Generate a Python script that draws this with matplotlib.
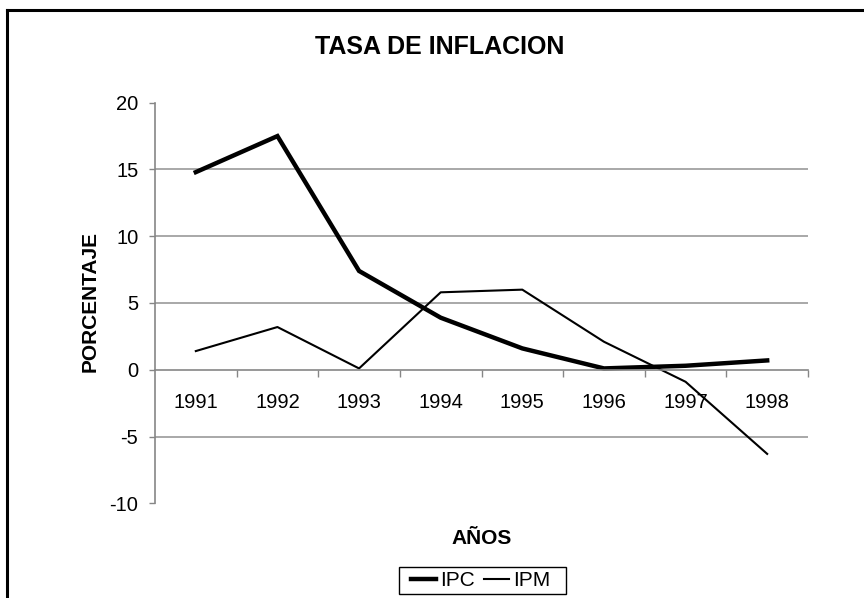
import matplotlib
matplotlib.use("Agg")
import matplotlib.pyplot as plt
from matplotlib.lines import Line2D
from matplotlib.patches import Rectangle
import numpy as np

plt.rcParams['font.family'] = ['Liberation Sans', 'DejaVu Sans']

years = ["1991", "1992", "1993", "1994", "1995", "1996", "1997", "1998"]
ipc = [14.8, 17.5, 7.4, 3.9, 1.6, 0.1, 0.3, 0.7]
ipm = [1.4, 3.2, 0.1, 5.8, 6.0, 2.1, -0.9, -6.3]
yticks = [-10, -5, 0, 5, 10, 15, 20]

W, H = 864, 598
fig = plt.figure(figsize=(W / 100, H / 100), dpi=100)
ax = fig.add_axes([155 / W, 1 - 503.3 / H, (808 - 155) / W, (503.3 - 102.7) / H])

x = np.arange(1, len(years) + 1)
l1, = ax.plot(x, ipc, color='black', lw=3.2, solid_joinstyle='miter', label='IPC')
l2, = ax.plot(x, ipm, color='black', lw=1.5, label='IPM')

ax.set_xlim(0.5, len(years) + 0.5)
ax.set_ylim(-10, 20)

gray = '#868686'
ax.set_yticks(yticks)
ax.set_yticklabels([str(v) for v in yticks])
ax.tick_params(axis='y', direction='out', length=4, width=1, color=gray,
               labelsize=14.5, pad=8)
ax.grid(axis='y', color='#999999', lw=1.2)
gl = ax.get_ygridlines()
for g, v in zip(gl, yticks):
    if v in (20, -10, 0):
        g.set_visible(False)

ax.set_xticks(np.arange(1.5, len(years) + 1, 1.0))
ax.set_xticklabels([])
ax.set_xticks(x, minor=True)
ax.set_xticklabels(years, minor=True)
ax.tick_params(axis='x', which='major', direction='out', length=5, width=1, color=gray)
ax.tick_params(axis='x', which='minor', length=0, labelsize=14.5, pad=17)

for s in ['top', 'right']:
    ax.spines[s].set_visible(False)
ax.spines['left'].set_color(gray)
ax.spines['bottom'].set_color(gray)
ax.spines['left'].set_linewidth(1.2)
ax.spines['bottom'].set_linewidth(1.2)
ax.spines['bottom'].set_position(('data', 0))
ax.set_axisbelow(True)

fig.text(440 / W, 1 - 47 / H, "TASA DE INFLACION", ha='center', va='center',
         fontsize=18, fontweight='bold')
fig.text(90 / W, 1 - 302 / H, "PORCENTAJE", ha='center', va='center',
         rotation=90, fontsize=15, fontweight='bold')
fig.text(482 / W, 1 - 538 / H, "AÑOS", ha='center', va='center',
         fontsize=15, fontweight='bold')

leg = fig.legend(handles=[l1, l2], loc='center', bbox_to_anchor=(481 / W, 1 - 580.5 / H),
                 ncol=2, fontsize=15, frameon=False,
                 handlelength=1.2, handletextpad=0.2, columnspacing=0.45,
                 borderpad=0.2, borderaxespad=0)

# legend box
fig.add_artist(Rectangle((399 / W, 1 - 594 / H), (566 - 399) / W, (594 - 567) / H,
                         transform=fig.transFigure, fill=False, edgecolor='black', lw=1.0))

fig.add_artist(Line2D([7 / W, 1.0], [1 - 10 / H, 1 - 10 / H], transform=fig.transFigure,
                      color='black', lw=2.2, solid_capstyle='projecting'))
fig.add_artist(Line2D([7 / W, 7 / W], [0, 1 - 10 / H], transform=fig.transFigure,
                      color='black', lw=2.2, solid_capstyle='projecting'))

fig.savefig("out.png", dpi=100)
